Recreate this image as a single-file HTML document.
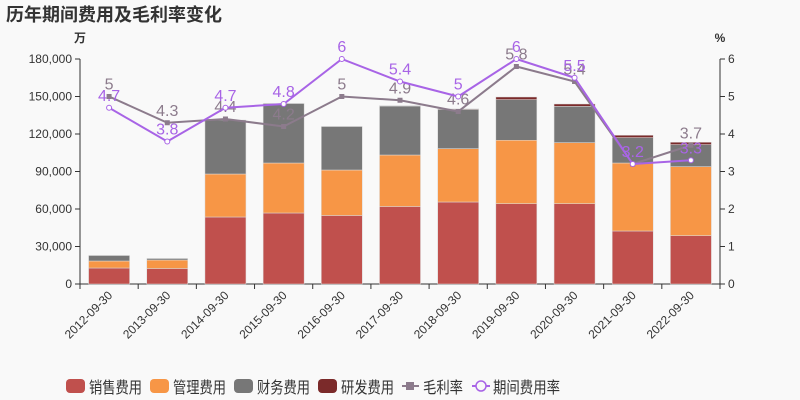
<!DOCTYPE html>
<html><head><meta charset="utf-8"><style>
body{margin:0;background:#f9f9f9;}
svg{display:block;font-family:"Liberation Sans","Noto Sans CJK SC",sans-serif;}
</style></head><body>
<svg id="chart" width="800" height="400" viewBox="0 0 800 400">
<rect width="800" height="400" fill="#f9f9f9"/>
<text x="6" y="21" font-size="18" font-weight="bold" fill="#333">历年期间费用及毛利率变化</text>
<text x="80" y="42" font-size="12" font-weight="bold" fill="#333" text-anchor="middle">万</text>
<text x="720" y="42" font-size="12" font-weight="bold" fill="#333" text-anchor="middle">%</text>
<g id="g"></g>
</svg>
<script>
const categories=["2012-09-30","2013-09-30","2014-09-30","2015-09-30","2016-09-30","2017-09-30","2018-09-30","2019-09-30","2020-09-30","2021-09-30","2022-09-30"];
const sales=[12800,12400,53600,56800,54800,62000,65600,64300,64300,42400,38700];
const mgmt=[5600,6800,34400,40000,36400,41200,42700,50700,48800,54400,55200];
const finance=[4400,1200,43200,47600,34800,39200,31400,32500,29000,20300,17600];
const rd=[0,0,0,0,0,400,500,2100,1900,1900,1900];
const grossRate=[5,4.3,4.4,4.2,5,4.9,4.6,5.8,5.4,3.2,3.7];
const periodRate=[4.7,3.8,4.7,4.8,6,5.4,5,6,5.5,3.2,3.3];
const leftTicks=[0,30000,60000,90000,120000,150000,180000];
const rightTicks=[0,1,2,3,4,5,6];

const NS="http://www.w3.org/2000/svg",g=document.getElementById('g');
const X0=80,X1=720,Y0=284,Y1=59,band=(X1-X0)/categories.length;
const yL=v=>Y0-(v/180000)*(Y0-Y1), yR=v=>Y0-(v/6)*(Y0-Y1), xc=i=>X0+band*(i+0.5);
function el(t,a,p){const e=document.createElementNS(NS,t);for(const k in a)e.setAttribute(k,a[k]);(p||g).appendChild(e);return e;}
let a=el('line',{x1:X0,y1:Y1,x2:X0,y2:Y0,stroke:'#333'});


a=el('line',{x1:X1,y1:Y1,x2:X1,y2:Y0,stroke:'#333'});


a=el('line',{x1:X0,y1:Y0,x2:X1,y2:Y0,stroke:'#333'});


leftTicks.forEach(v=>{const y=yL(v);el('line',{x1:X0-5,y1:y,x2:X0,y2:y,stroke:'#333'});
const t=el('text',{x:X0-8,y:y+4,'font-size':12,fill:'#333','text-anchor':'end'});t.textContent=v.toLocaleString('en-US');

});
rightTicks.forEach(v=>{const y=yR(v);el('line',{x1:X1,y1:y,x2:X1+5,y2:y,stroke:'#333'});
const t=el('text',{x:X1+8,y:y+4,'font-size':12,fill:'#333'});t.textContent=v;

});
for(let i=0;i<=categories.length;i++){const x=X0+band*i;el('line',{x1:x,y1:Y0,x2:x,y2:Y0+5,stroke:'#333'});}
categories.forEach((c,i)=>{const x=xc(i)+4,y=Y0+12;const t=el('text',{x:x,y:y,'font-size':12,fill:'#333','text-anchor':'end',transform:`rotate(-45 ${x} ${y})`});t.textContent=c;

});
const series=[[sales,'#c0504d','sales'],[mgmt,'#f79646','mgmt'],[finance,'#777777','finance'],[rd,'#7b2a2a','rd']];
const bw=41;
categories.forEach((c,i)=>{let base=0;series.forEach(([arr,col,nm])=>{const v=arr[i];if(v<=0)return;
const r=el('rect',{x:xc(i)-bw/2,y:yL(base+v),width:bw,height:yL(base)-yL(base+v),fill:col,stroke:'#ddd','stroke-width':0.5});


base+=v;});});
function line(arr,col,nm,circle){
const p=el('polyline',{points:arr.map((v,i)=>xc(i)+','+yR(v)).join(' '),fill:'none',stroke:col,'stroke-width':2});


arr.forEach((v,i)=>{let m;
if(circle)m=el('circle',{cx:xc(i),cy:yR(v),r:2.5,fill:'#fff',stroke:col,'stroke-width':1});
else m=el('rect',{x:xc(i)-2.5,y:yR(v)-2.5,width:5,height:5,fill:col});


const t=el('text',{x:xc(i),y:yR(v)-7,'font-size':16,fill:col,'text-anchor':'middle'});t.textContent=v;

});}
line(grossRate,'#8c7b8c','gross-rate',false);
line(periodRate,'#a864e6','period-rate',true);
const leg=[['销售费用','#c0504d',66],['管理费用','#f79646',150],['财务费用','#777777',234],['研发费用','#7b2a2a',318]];
leg.forEach(([n,c,x])=>{const r=el('rect',{x:x,y:379,width:19,height:14,rx:4,fill:c});


const t=el('text',{x:x+23,y:393,'font-size':16,fill:'#333',textLength:53,lengthAdjust:'spacingAndGlyphs'});t.textContent=n;

});
el('line',{x1:402,y1:386,x2:419,y2:386,stroke:'#8c7b8c','stroke-width':2});
el('rect',{x:406,y:382,width:8,height:8,fill:'#8c7b8c'});
let t=el('text',{x:423,y:393,'font-size':16,fill:'#333',textLength:40,lengthAdjust:'spacingAndGlyphs'});t.textContent='毛利率';


el('line',{x1:472,y1:386,x2:490,y2:386,stroke:'#a864e6','stroke-width':2});
el('circle',{cx:481,cy:386,r:5,fill:'#f9f9f9',stroke:'#a864e6','stroke-width':1.5});
t=el('text',{x:493,y:393,'font-size':16,fill:'#333',textLength:67,lengthAdjust:'spacingAndGlyphs'});t.textContent='期间费用率';


</script>
</body></html>
